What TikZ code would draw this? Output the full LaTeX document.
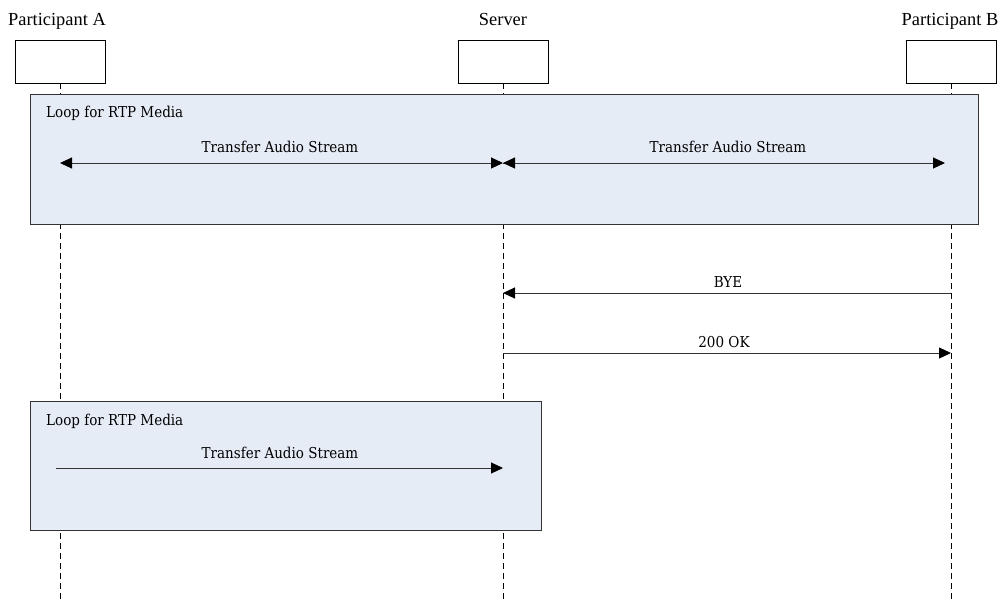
\documentclass[tikz,border=0pt]{standalone}
\usepackage{fontspec}
\setmainfont{Liberation Serif}
\newfontfamily\lblfont{DejaVu Serif Condensed}
\usetikzlibrary{arrows.meta}
\definecolor{loopfill}{HTML}{E6ECF6}
\definecolor{linegray}{HTML}{333333}
\tikzset{
  headbox/.style={draw=black, line width=0.8pt, fill=white, minimum width=90pt, minimum height=43pt, inner sep=0pt},
  title/.style={font=\fontsize{18.4}{19}\selectfont, inner sep=0pt, anchor=base},
  lifeline/.style={draw=black, line width=0.8pt, dash pattern=on 6pt off 4pt},
  loopbox/.style={draw=linegray, line width=0.9pt, fill=loopfill},
  looplbl/.style={font=\lblfont\fontsize{15}{15}\selectfont, inner sep=0pt, anchor=base west},
  msglbl/.style={font=\lblfont\fontsize{15}{15}\selectfont, inner sep=0pt, anchor=base},
  tip/.style={Triangle[length=12pt,width=11pt,color=black]},
  msg/.style={draw=linegray, line width=1pt, -{Triangle[length=12pt,width=11pt,color=black]}},
  bimsg/.style={draw=linegray, line width=1pt, {Triangle[length=12pt,width=11pt,color=black]}-{Triangle[length=12pt,width=11pt,color=black]}}
}
\begin{document}
\begin{tikzpicture}[x=1pt,y=-1pt]
\useasboundingbox (0,0) rectangle (1003,600);
% titles
\node[title] (tA) at (57,25) {Participant A};
\node[title] (tS) at (503,25) {Server};
\node[title] (tB) at (950,25) {Participant B};
% head boxes
\node[headbox] (hA) at (60,61.5) {};
\node[headbox] (hS) at (503,61.5) {};
\node[headbox] (hB) at (951,61.5) {};
% lifeline ends
\coordinate (eA) at (60,600);
\coordinate (eS) at (503,600);
\coordinate (eB) at (951,600);
\draw[lifeline] (hA.south) -- (eA);
\draw[lifeline] (hS.south) -- (eS);
\draw[lifeline] (hB.south) -- (eB);
% loop 1
\node[loopbox, minimum width=948pt, minimum height=130pt, inner sep=0pt, anchor=north west] (loop1) at (30,94) {};
\node[looplbl] (l1) at (46,117) {Loop for RTP Media};
\coordinate (a1) at (60,163);
\coordinate (s1) at (503,163);
\coordinate (b1) at (945,163);
\draw[bimsg] (a1) -- (s1);
\draw[msg] (s1) -- (b1);
\draw[{Triangle[length=12pt,width=11pt,color=black]}-, draw=linegray, line width=1pt] (s1) -- ++(15,0);
\node[msglbl] (m1) at (280,152) {Transfer Audio Stream};
\node[msglbl] (m2) at (728,152) {Transfer Audio Stream};
% BYE / 200 OK
\coordinate (b2) at (951,293);
\coordinate (s2) at (503,293);
\draw[msg] (b2) -- (s2);
\node[msglbl] (m3) at (728,287) {BYE};
\coordinate (s3) at (503,353);
\coordinate (b3) at (951,353);
\draw[msg] (s3) -- (b3);
\node[msglbl] (m4) at (724,347) {200 OK};
% loop 2
\node[loopbox, minimum width=511pt, minimum height=129pt, inner sep=0pt, anchor=north west] (loop2) at (30,401) {};
\node[looplbl] (l2) at (46,425) {Loop for RTP Media};
\coordinate (a4) at (56,468);
\coordinate (s4) at (503,468);
\draw[msg] (a4) -- (s4);
\node[msglbl] (m5) at (280,458) {Transfer Audio Stream};
\end{tikzpicture}
\end{document}
